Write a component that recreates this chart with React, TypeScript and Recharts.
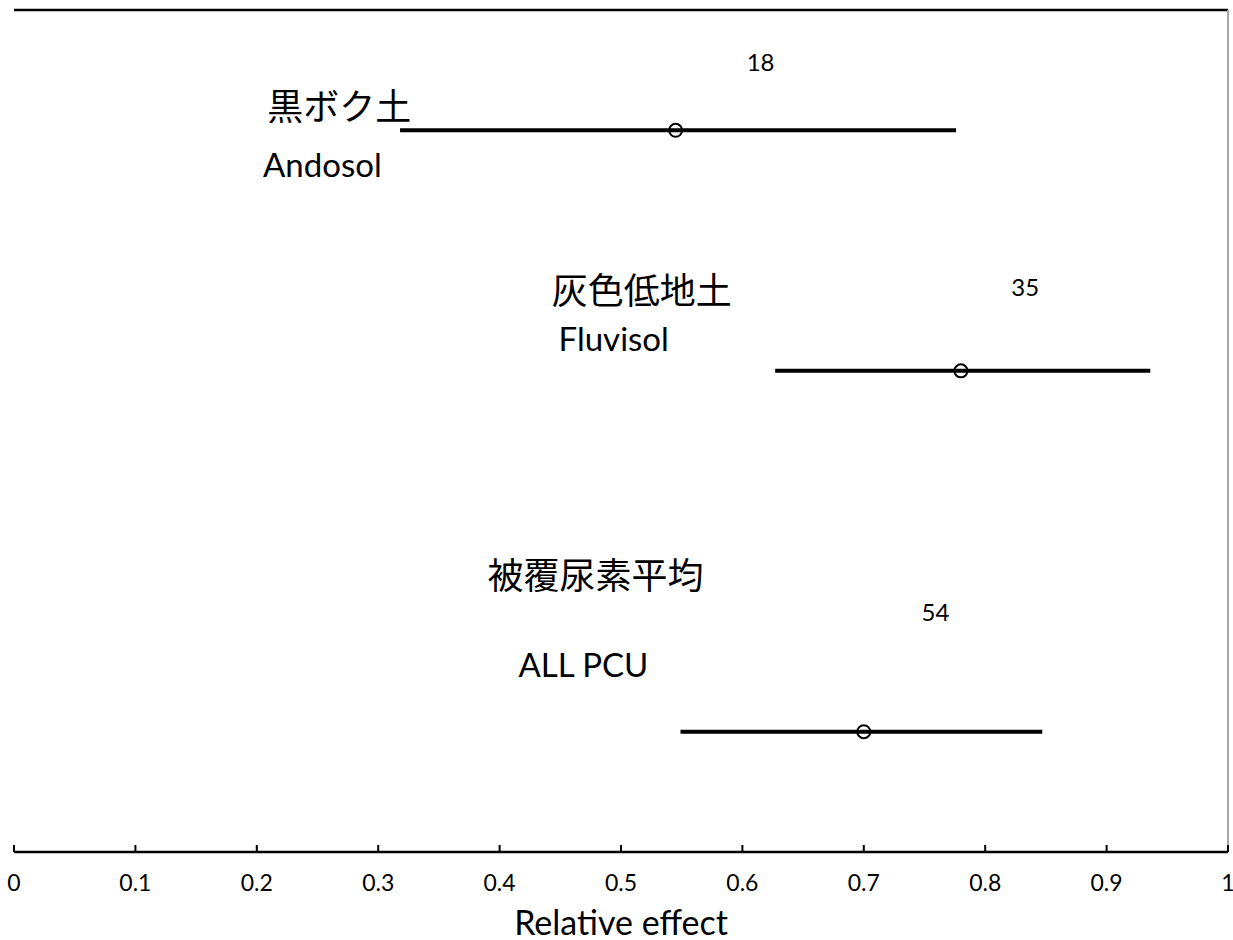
import { ScatterChart, Scatter, XAxis, YAxis, ReferenceLine, Label } from 'recharts'

// one row per soil group
const groups = ['Andosol', 'Fluvisol', 'ALL PCU']
const groupsJa = ['黒ボク土', '灰色低地土', '被覆尿素平均']
const rowY = [6, 4, 1]
const means = [0.545, 0.78, 0.70]
const lower = [0.318, 0.627, 0.549]
const upper = [0.776, 0.936, 0.847]
const counts = [18, 35, 54]

const xTicks = [0, 0.1, 0.2, 0.3, 0.4, 0.5, 0.6, 0.7, 0.8, 0.9, 1]

// where each text label sits, in data units [x, y]
const jaPos = [[0.268, 6.22], [0.517, 4.69], [0.479, 2.32]]
const enPos = [[0.254, 5.72], [0.494, 4.27], [0.469, 1.56]]
const nPos = [[0.615, 6.57], [0.833, 4.7], [0.759, 2.0]]

const LATIN = 'Lato, "Noto Sans CJK JP", sans-serif'
const CJK = '"Noto Sans CJK JP", sans-serif'
const TICK_GAP = 23

const points = groups.map((g, i) => ({ name: g, x: means[i], y: rowY[i] }))

const labels = [
  ...groupsJa.map((t, i) => ({ text: t, x: jaPos[i][0], y: jaPos[i][1], kind: 'ja' })),
  ...groups.map((t, i) => ({ text: t, x: enPos[i][0], y: enPos[i][1], kind: 'en' })),
  ...counts.map((n, i) => ({ text: String(n), x: nPos[i][0], y: nPos[i][1], kind: 'n' })),
]

const labelStyle: Record<string, { fontSize: number; fontFamily: string }> = {
  ja: { fontSize: 36, fontFamily: CJK },
  en: { fontSize: 33, fontFamily: LATIN },
  n: { fontSize: 24, fontFamily: LATIN },
}

const OpenCircle = (p: any) => (
  <circle cx={p.cx} cy={p.cy} r={6.5} fill="none" stroke="#000" strokeWidth={2} />
)

const TextMark = (p: any) => {
  const s = labelStyle[p.payload.kind]
  return (
    <text x={p.cx} y={p.cy} textAnchor="middle" dominantBaseline="central"
      fontSize={s.fontSize} fontFamily={s.fontFamily} fill="#000">
      {p.payload.text}
    </text>
  )
}

// tick marks point up into the plot, like the Excel original
const InwardTick = (p: any) => {
  const axisY = p.y - TICK_GAP
  return (
    <g>
      <line x1={p.x} x2={p.x} y1={axisY} y2={axisY - 7} stroke="#000" strokeWidth={2} />
      <text x={p.x} y={p.y} dy="0.71em" textAnchor="middle" fontSize={23}
        fontFamily={LATIN} fill="#000">
        {String(p.payload.value)}
      </text>
    </g>
  )
}

export default function App() {
  return (
    <div style={{ position: 'absolute', left: 0, top: 0, background: '#fff' }}>
      <ScatterChart width={1233} height={940} margin={{ top: 10, right: 5, bottom: 0, left: 14 }}>
        <XAxis type="number" dataKey="x" domain={[0, 1]} ticks={xTicks} height={88}
          tickSize={0} tickMargin={TICK_GAP} tickLine={false} tick={InwardTick} interval={0}
          axisLine={{ stroke: '#000', strokeWidth: 2.5 }}>
          <Label value="Relative effect" position="insideBottom" offset={5}
            style={{ fill: '#000', fontSize: 34, fontFamily: LATIN }} />
        </XAxis>
        <YAxis type="number" dataKey="y" domain={[0, 7]} width={0} tick={false} tickLine={false}
          axisLine={{ stroke: '#000', strokeWidth: 2.5 }} />
        <ReferenceLine y={7} stroke="#000" strokeWidth={2.5} />
        <ReferenceLine x={1} stroke="#a6a6a6" strokeWidth={2} />
        {groups.map((g, i) => (
          <Scatter key={g} data={[{ x: lower[i], y: rowY[i] }, { x: upper[i], y: rowY[i] }]}
            line={{ stroke: '#000', strokeWidth: 4 }} shape={() => <g />} isAnimationActive={false} />
        ))}
        <Scatter data={points} shape={OpenCircle} isAnimationActive={false} />
        <Scatter data={labels} shape={TextMark} isAnimationActive={false} />
      </ScatterChart>
    </div>
  )
}
